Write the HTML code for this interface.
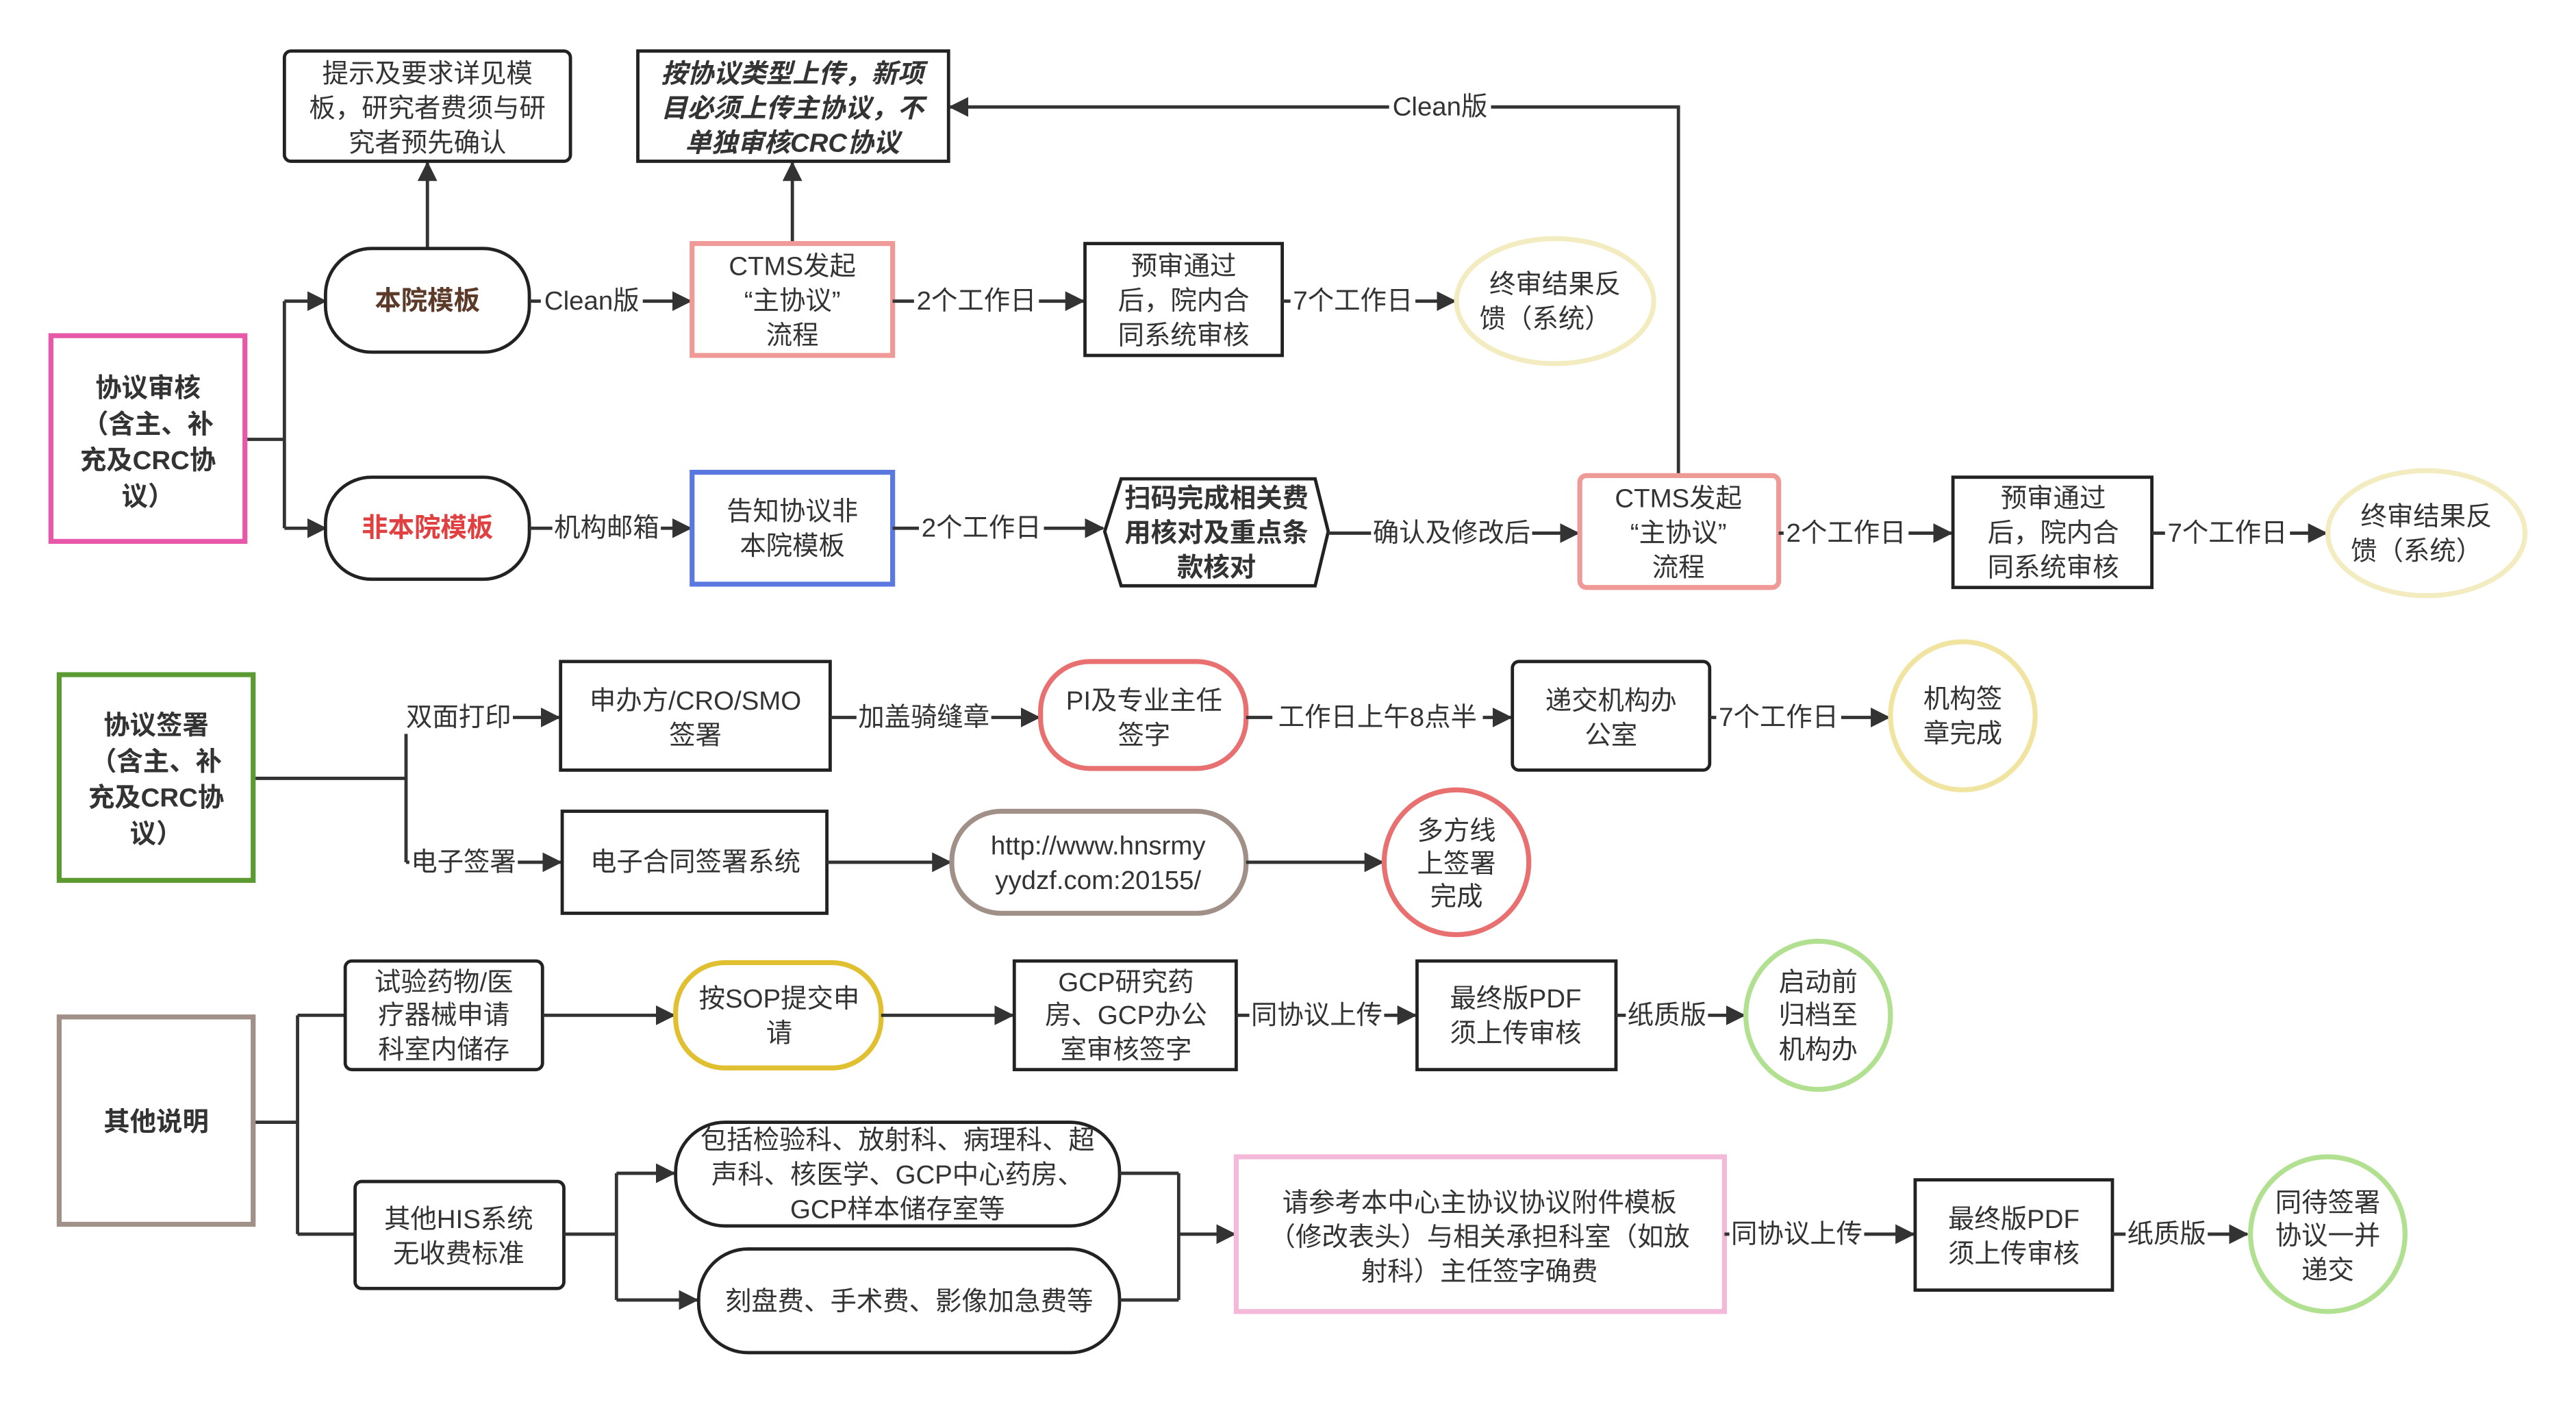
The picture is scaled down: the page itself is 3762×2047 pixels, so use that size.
<!DOCTYPE html>
<html><head><meta charset="utf-8"><style>
html,body{margin:0;padding:0;background:#fff;width:3762px;height:2047px;overflow:hidden;}
svg{display:block;overflow:hidden;}
text{font-family:"Liberation Sans","Noto Sans CJK SC",sans-serif;font-size:16px;fill:#333;text-anchor:middle;dominant-baseline:central;}
.b{font-weight:bold;}
.l{fill:none;stroke:#333;stroke-width:2;}
.n{fill:#fff;stroke:#222;stroke-width:2;}
</style></head><body>
<svg width="3762" height="2047" viewBox="0 0 1567 852" preserveAspectRatio="none" xmlns="http://www.w3.org/2000/svg">
<defs><marker id="a" markerUnits="userSpaceOnUse" markerWidth="12" markerHeight="12" refX="11" refY="6" orient="auto"><path d="M0,0 L12,6 L0,12 z" fill="#333"/></marker></defs>
<rect width="1567" height="852" fill="#fff"/>

<!-- ROW 1 -->
<path class="l" d="M149,267 H173 M173,183 V321"/>
<path class="l" d="M173,183 H198" marker-end="url(#a)"/>
<path class="l" d="M173,321 H198" marker-end="url(#a)"/>
<rect x="31" y="204" width="118" height="125" fill="#fff" stroke="#e858a8" stroke-width="3"/>
<text class="b" x="90" y="236">协议审核</text><text class="b" x="90" y="258">（含主、补</text><text class="b" x="90" y="280">充及CRC协</text><text class="b" x="90" y="302">议）</text>

<path class="l" d="M260,151 V99" marker-end="url(#a)"/>
<rect class="n" x="173" y="31" width="174" height="67" rx="4"/>
<text x="260" y="45">提示及要求详见模</text><text x="260" y="66">板，研究者费须与研</text><text x="260" y="87">究者预先确认</text>

<rect class="n" x="198" y="151" width="124" height="63" rx="28"/>
<text class="b" x="260" y="183" style="fill:#5b3a29">本院模板</text>

<path class="l" d="M322,183 H420" marker-end="url(#a)"/>
<rect x="329" y="173" width="62" height="20" fill="#fff"/><text x="360" y="183">Clean版</text>

<path class="l" d="M482,148 V99" marker-end="url(#a)"/>
<rect class="n" x="388" y="31" width="189" height="67"/>
<text class="b" x="482" y="45" style="font-style:italic">按协议类型上传，新项</text><text class="b" x="482" y="66" style="font-style:italic">目必须上传主协议，不</text><text class="b" x="482" y="87" style="font-style:italic">单独审核CRC协议</text>

<rect x="421" y="148" width="122" height="68" fill="#fff" stroke="#f09a98" stroke-width="3"/>
<text x="482" y="162">CTMS发起</text><text x="482" y="183">“主协议”</text><text x="482" y="204">流程</text>

<path class="l" d="M543,183 H659" marker-end="url(#a)"/>
<rect x="556" y="173" width="76" height="20" fill="#fff"/><text x="594" y="183">2个工作日</text>
<rect class="n" x="660" y="148" width="120" height="68"/>
<text x="720" y="162">预审通过</text><text x="720" y="183">后，院内合</text><text x="720" y="204">同系统审核</text>
<path class="l" d="M780,183 H885" marker-end="url(#a)"/>
<rect x="785" y="173" width="76" height="20" fill="#fff"/><text x="823" y="183">7个工作日</text>
<ellipse cx="946" cy="183" rx="60" ry="38" fill="#fff" stroke="#f3ecc0" stroke-width="3"/>
<text x="946" y="173">终审结果反</text><text x="940" y="194">馈（系统）</text>

<rect class="n" x="198" y="290" width="124" height="62" rx="28"/>
<text class="b" x="260" y="321" style="fill:#e04040">非本院模板</text>
<path class="l" d="M322,321 H420" marker-end="url(#a)"/>
<rect x="336" y="311" width="66" height="20" fill="#fff"/><text x="369" y="321">机构邮箱</text>
<rect x="421" y="287" width="122" height="68" fill="#fff" stroke="#5b78e0" stroke-width="3"/>
<text x="482" y="311">告知协议非</text><text x="482" y="332">本院模板</text>
<path class="l" d="M543,321 H671" marker-end="url(#a)"/>
<rect x="559" y="311" width="76" height="20" fill="#fff"/><text x="597" y="321">2个工作日</text>
<polygon points="682,291 800,291 808,323 800,356 682,356 672,323" fill="#fff" stroke="#222" stroke-width="2"/>
<text class="b" x="740" y="303">扫码完成相关费</text><text class="b" x="740" y="324">用核对及重点条</text><text class="b" x="740" y="345">款核对</text>
<path class="l" d="M808,324 H960" marker-end="url(#a)"/>
<rect x="834" y="314" width="98" height="20" fill="#fff"/><text x="883" y="324">确认及修改后</text>

<path class="l" d="M1021,289 V65 H578" marker-end="url(#a)"/>
<rect x="845" y="55" width="62" height="20" fill="#fff"/><text x="876" y="65">Clean版</text>
<rect x="961" y="289" width="121" height="68" rx="4" fill="#fff" stroke="#f09a98" stroke-width="3"/>
<text x="1021" y="303">CTMS发起</text><text x="1021" y="324">“主协议”</text><text x="1021" y="345">流程</text>
<path class="l" d="M1082,324 H1187" marker-end="url(#a)"/>
<rect x="1085" y="314" width="76" height="20" fill="#fff"/><text x="1123" y="324">2个工作日</text>
<rect class="n" x="1188" y="290" width="121" height="67"/>
<text x="1249" y="303">预审通过</text><text x="1249" y="324">后，院内合</text><text x="1249" y="345">同系统审核</text>
<path class="l" d="M1309,324 H1415" marker-end="url(#a)"/>
<rect x="1317" y="314" width="76" height="20" fill="#fff"/><text x="1355" y="324">7个工作日</text>
<ellipse cx="1476" cy="324" rx="60" ry="38" fill="#fff" stroke="#f3ecc0" stroke-width="3"/>
<text x="1476" y="314">终审结果反</text><text x="1470" y="335">馈（系统）</text>

<!-- ROW 2 -->
<path class="l" d="M154,473 H247 M247,446 V524"/>
<path class="l" d="M247,524 H341" marker-end="url(#a)"/>
<rect x="249" y="514" width="66" height="20" fill="#fff"/><text x="282" y="524">电子签署</text>
<path class="l" d="M312,436 H340" marker-end="url(#a)"/>
<text x="279" y="436">双面打印</text>
<rect x="36" y="410" width="118" height="125" fill="#fff" stroke="#5a9a30" stroke-width="3"/>
<text class="b" x="95" y="441">协议签署</text><text class="b" x="95" y="463">（含主、补</text><text class="b" x="95" y="485">充及CRC协</text><text class="b" x="95" y="507">议）</text>

<rect class="n" x="341" y="402" width="164" height="66"/>
<text x="423" y="426">申办方/CRO/SMO</text><text x="423" y="447">签署</text>
<path class="l" d="M505,436 H632" marker-end="url(#a)"/>
<rect x="521" y="426" width="82" height="20" fill="#fff"/><text x="562" y="436">加盖骑缝章</text>
<rect x="633" y="402" width="125" height="65" rx="30" fill="#fff" stroke="#e87070" stroke-width="3"/>
<text x="696" y="426">PI及专业主任</text><text x="696" y="447">签字</text>
<path class="l" d="M758,436 H919" marker-end="url(#a)"/>
<rect x="774" y="426" width="128" height="20" fill="#fff"/><text x="838" y="436">工作日上午8点半</text>
<rect class="n" x="920" y="402" width="120" height="66" rx="4"/>
<text x="980" y="426">递交机构办</text><text x="980" y="447">公室</text>
<path class="l" d="M1040,436 H1149" marker-end="url(#a)"/>
<rect x="1044" y="426" width="76" height="20" fill="#fff"/><text x="1082" y="436">7个工作日</text>
<ellipse cx="1194" cy="435" rx="44" ry="45" fill="#fff" stroke="#f0e4a0" stroke-width="3"/>
<text x="1194" y="425">机构签</text><text x="1194" y="446">章完成</text>

<rect class="n" x="342" y="493" width="161" height="62"/>
<text x="423" y="524">电子合同签署系统</text>
<path class="l" d="M503,524 H578" marker-end="url(#a)"/>
<rect x="579" y="493" width="179" height="62" rx="30" fill="#fff" stroke="#a09088" stroke-width="3"/>
<text x="668" y="514">http://www.hnsrmy</text><text x="668" y="535">yydzf.com:20155/</text>
<path class="l" d="M758,524 H841" marker-end="url(#a)"/>
<ellipse cx="886" cy="524" rx="44" ry="44" fill="#fff" stroke="#e87070" stroke-width="3"/>
<text x="886" y="505">多方线</text><text x="886" y="525">上签署</text><text x="886" y="545">完成</text>

<!-- ROW 3 -->
<path class="l" d="M154,682 H181 M181,617 V750"/>
<path class="l" d="M181,617 H210"/>
<path class="l" d="M181,750 H216"/>
<rect x="36" y="618" width="118" height="126" fill="#fff" stroke="#a09088" stroke-width="3"/>
<text class="b" x="95" y="682">其他说明</text>

<rect class="n" x="210" y="584" width="120" height="66" rx="4"/>
<text x="270" y="597">试验药物/医</text><text x="270" y="617">疗器械申请</text><text x="270" y="638">科室内储存</text>
<path class="l" d="M330,617 H410" marker-end="url(#a)"/>
<rect x="411" y="585" width="125" height="64" rx="30" fill="#fff" stroke="#e0c030" stroke-width="3"/>
<text x="474" y="607">按SOP提交申</text><text x="474" y="628">请</text>
<path class="l" d="M536,617 H616" marker-end="url(#a)"/>
<rect class="n" x="617" y="584" width="135" height="66"/>
<text x="685" y="597">GCP研究药</text><text x="685" y="617">房、GCP办公</text><text x="685" y="638">室审核签字</text>
<path class="l" d="M752,617 H861" marker-end="url(#a)"/>
<rect x="760" y="607" width="82" height="20" fill="#fff"/><text x="801" y="617">同协议上传</text>
<rect class="n" x="862" y="584" width="121" height="66"/>
<text x="922" y="607">最终版PDF</text><text x="922" y="628">须上传审核</text>
<path class="l" d="M983,617 H1061" marker-end="url(#a)"/>
<rect x="989" y="607" width="50" height="20" fill="#fff"/><text x="1014" y="617">纸质版</text>
<ellipse cx="1106" cy="617" rx="44" ry="45" fill="#fff" stroke="#b0e090" stroke-width="3"/>
<text x="1106" y="597">启动前</text><text x="1106" y="617">归档至</text><text x="1106" y="638">机构办</text>

<rect class="n" x="216" y="718" width="127" height="65" rx="4"/>
<text x="279" y="741">其他HIS系统</text><text x="279" y="762">无收费标准</text>
<path class="l" d="M343,750 H375 M375,713 V790"/>
<path class="l" d="M375,713 H410" marker-end="url(#a)"/>
<path class="l" d="M375,790 H424" marker-end="url(#a)"/>
<rect class="n" x="411" y="682" width="270" height="63" rx="30"/>
<text x="546" y="693">包括检验科、放射科、病理科、超</text><text x="546" y="714">声科、核医学、GCP中心药房、</text><text x="546" y="735">GCP样本储存室等</text>
<rect class="n" x="425" y="759" width="256" height="63" rx="30"/>
<text x="553" y="791">刻盘费、手术费、影像加急费等</text>
<path class="l" d="M681,713 H717 M681,790 H717 M717,713 V790"/>
<path class="l" d="M717,750 H751" marker-end="url(#a)"/>
<rect x="752" y="703" width="297" height="94" fill="#fff" stroke="#f4b8d8" stroke-width="3"/>
<text x="900" y="731">请参考本中心主协议协议附件模板</text><text x="900" y="752">（修改表头）与相关承担科室（如放</text><text x="900" y="773">射科）主任签字确费</text>
<path class="l" d="M1049,750 H1164" marker-end="url(#a)"/>
<rect x="1052" y="740" width="82" height="20" fill="#fff"/><text x="1093" y="750">同协议上传</text>
<rect class="n" x="1165" y="717" width="120" height="67"/>
<text x="1225" y="741">最终版PDF</text><text x="1225" y="762">须上传审核</text>
<path class="l" d="M1285,750 H1367" marker-end="url(#a)"/>
<rect x="1293" y="740" width="50" height="20" fill="#fff"/><text x="1318" y="750">纸质版</text>
<ellipse cx="1416" cy="750" rx="47" ry="47" fill="#fff" stroke="#b0e090" stroke-width="3"/>
<text x="1416" y="731">同待签署</text><text x="1416" y="751">协议一并</text><text x="1416" y="772">递交</text>
</svg>
</body></html>
